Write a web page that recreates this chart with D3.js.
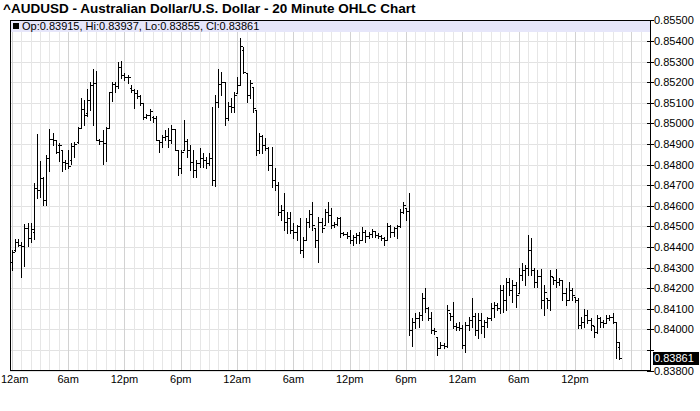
<!DOCTYPE html>
<html><head><meta charset="utf-8">
<script src="https://cdn.jsdelivr.net/npm/d3@7"></script>
<style>html,body{margin:0;padding:0;background:#fff;}svg{display:block;}</style>
</head><body>
<script>
const title = "^AUDUSD - Australian Dollar/U.S. Dollar - 20 Minute OHLC Chart";
const timeLabels = ["12am","6am","12pm","6pm","12am","6am","12pm","6pm","12am","6am","12pm"];
const timeLabelHours = [0,6,12,18,24,30,36,42,48,54,60];
const priceTicks = [0.838,0.839,0.840,0.841,0.842,0.843,0.844,0.845,0.846,0.847,0.848,0.849,0.850,0.851,0.852,0.853,0.854,0.855];
const barMinutes = 20;

const opens = [
0.84327,0.84385,0.84424,0.84409,0.84404,0.84492,0.84443,0.84473,0.84686,0.84677,
0.84735,0.84628,0.84832,0.84925,0.84920,0.84895,0.84871,0.84813,0.84808,0.84822,
0.84890,0.84910,0.84978,0.85070,0.85051,0.85114,0.85187,0.85197,0.84920,0.84915,
0.84905,0.84978,0.85153,0.85192,0.85182,0.85274,0.85236,0.85226,0.85172,0.85163,
0.85148,0.85133,0.85099,0.85031,0.85041,0.85031,0.85027,0.84920,0.84910,0.84934,
0.84939,0.84920,0.84973,0.84871,0.84784,0.84871,0.84915,0.84871,0.84813,0.84774,
0.84808,0.84832,0.84822,0.84808,0.84832,0.84725,0.85104,0.85192,0.85202,0.85027,
0.85085,0.85080,0.85148,0.85187,0.85357,0.85245,0.85138,0.85177,0.85065,0.84871,
0.84939,0.84895,0.84881,0.84798,0.84725,0.84701,0.84570,0.84579,0.84521,0.84541,
0.84482,0.84473,0.84502,0.84385,0.84434,0.84521,0.84560,0.84492,0.84434,0.84521,
0.84507,0.84570,0.84555,0.84507,0.84511,0.84541,0.84468,0.84463,0.84453,0.84434,
0.84448,0.84458,0.84434,0.84473,0.84453,0.84463,0.84477,0.84458,0.84453,0.84443,
0.84434,0.84502,0.84473,0.84492,0.84502,0.84570,0.84589,0.84575,0.83996,0.84035,
0.84055,0.84069,0.84152,0.84103,0.84055,0.83996,0.83962,0.83909,0.83923,0.83918,
0.84079,0.84064,0.84016,0.84011,0.84006,0.83923,0.84021,0.84045,0.84064,0.83996,
0.84045,0.84016,0.84035,0.84055,0.84103,0.84118,0.84103,0.84191,0.84142,0.84230,
0.84191,0.84215,0.84176,0.84264,0.84288,0.84298,0.84385,0.84288,0.84230,0.84259,
0.84142,0.84152,0.84142,0.84254,0.84239,0.84230,0.84239,0.84176,0.84142,0.84191,
0.84157,0.84142,0.84021,0.84035,0.84069,0.84045,0.84016,0.83987,0.84055,0.84035,
0.84030,0.84055,0.84059,0.84035,0.83915];

const highs = [
0.84385,0.84439,0.84439,0.84424,0.84511,0.84516,0.84516,0.84711,0.84949,0.84818,
0.84740,0.84847,0.84973,0.84954,0.84920,0.84905,0.84871,0.84822,0.84871,0.84905,
0.84910,0.84983,0.85124,0.85114,0.85168,0.85202,0.85265,0.85255,0.84925,0.84968,
0.84983,0.85153,0.85202,0.85202,0.85299,0.85304,0.85245,0.85236,0.85187,0.85168,
0.85163,0.85138,0.85099,0.85046,0.85070,0.85036,0.85036,0.84920,0.84944,0.84968,
0.84978,0.84993,0.84973,0.84871,0.84871,0.85017,0.84925,0.84895,0.84871,0.84822,
0.84881,0.84856,0.84837,0.84856,0.85080,0.85138,0.85265,0.85250,0.85202,0.85104,
0.85124,0.85153,0.85226,0.85415,0.85372,0.85245,0.85211,0.85177,0.85065,0.84954,
0.84944,0.84929,0.84886,0.84886,0.84784,0.84716,0.84604,0.84662,0.84570,0.84570,
0.84516,0.84507,0.84541,0.84448,0.84541,0.84579,0.84618,0.84492,0.84545,0.84541,
0.84584,0.84618,0.84589,0.84521,0.84545,0.84545,0.84473,0.84473,0.84482,0.84458,
0.84468,0.84473,0.84497,0.84482,0.84473,0.84487,0.84477,0.84468,0.84458,0.84448,
0.84516,0.84507,0.84497,0.84507,0.84584,0.84618,0.84589,0.84662,0.84055,0.84079,
0.84084,0.84176,0.84200,0.84108,0.84084,0.84006,0.83962,0.83938,0.83933,0.84118,
0.84079,0.84132,0.84030,0.84035,0.84021,0.84035,0.84059,0.84152,0.84079,0.84079,
0.84079,0.84045,0.84059,0.84127,0.84132,0.84127,0.84215,0.84215,0.84249,0.84249,
0.84239,0.84230,0.84298,0.84322,0.84312,0.84458,0.84443,0.84298,0.84288,0.84293,
0.84215,0.84152,0.84288,0.84254,0.84293,0.84249,0.84239,0.84200,0.84230,0.84200,
0.84157,0.84152,0.84059,0.84098,0.84093,0.84055,0.84016,0.84069,0.84059,0.84045,
0.84069,0.84069,0.84079,0.84035,0.83937];

const lows = [
0.84288,0.84380,0.84404,0.84254,0.84307,0.84404,0.84424,0.84439,0.84638,0.84643,
0.84604,0.84604,0.84769,0.84895,0.84856,0.84818,0.84769,0.84779,0.84784,0.84803,
0.84837,0.84905,0.84978,0.84993,0.85036,0.85065,0.84993,0.84920,0.84900,0.84803,
0.84818,0.84978,0.85109,0.85153,0.85172,0.85221,0.85211,0.85197,0.85153,0.85075,
0.85124,0.85090,0.85022,0.85027,0.85017,0.85007,0.84920,0.84861,0.84886,0.84920,
0.84886,0.84905,0.84871,0.84750,0.84759,0.84871,0.84837,0.84774,0.84740,0.84740,
0.84788,0.84788,0.84784,0.84798,0.84701,0.84696,0.85080,0.85138,0.84993,0.85017,
0.85056,0.85056,0.85148,0.85187,0.85245,0.85104,0.85124,0.85056,0.84847,0.84856,
0.84856,0.84871,0.84774,0.84691,0.84677,0.84555,0.84531,0.84482,0.84468,0.84468,
0.84443,0.84434,0.84370,0.84351,0.84434,0.84497,0.84482,0.84400,0.84327,0.84473,
0.84507,0.84521,0.84492,0.84497,0.84507,0.84448,0.84458,0.84443,0.84419,0.84409,
0.84419,0.84419,0.84434,0.84424,0.84443,0.84448,0.84448,0.84443,0.84434,0.84409,
0.84434,0.84448,0.84453,0.84443,0.84497,0.84565,0.84531,0.83972,0.83918,0.84006,
0.84011,0.84045,0.84084,0.84045,0.83982,0.83977,0.83875,0.83909,0.83909,0.83914,
0.84045,0.84006,0.83996,0.83996,0.83909,0.83889,0.83996,0.84011,0.83972,0.83957,
0.83982,0.83962,0.84011,0.84045,0.84059,0.84093,0.84079,0.84084,0.84093,0.84166,
0.84132,0.84108,0.84176,0.84239,0.84215,0.84264,0.84264,0.84205,0.84205,0.84103,
0.84069,0.84103,0.84093,0.84220,0.84205,0.84215,0.84142,0.84118,0.84142,0.84142,
0.84132,0.84006,0.84006,0.84011,0.84030,0.83996,0.83962,0.83982,0.84011,0.84011,
0.84030,0.84045,0.84030,0.83860,0.83855];

const closes = [
0.84375,0.84424,0.84409,0.84404,0.84492,0.84443,0.84487,0.84686,0.84677,0.84735,
0.84628,0.84832,0.84925,0.84920,0.84861,0.84895,0.84813,0.84808,0.84793,0.84890,
0.84900,0.84978,0.85070,0.85041,0.85114,0.85187,0.85197,0.84920,0.84915,0.84905,
0.84978,0.85153,0.85192,0.85182,0.85274,0.85236,0.85226,0.85226,0.85163,0.85148,
0.85133,0.85099,0.85031,0.85041,0.85061,0.85027,0.84920,0.84910,0.84934,0.84939,
0.84920,0.84973,0.84871,0.84784,0.84861,0.84915,0.84871,0.84813,0.84774,0.84808,
0.84832,0.84822,0.84808,0.84832,0.84725,0.85104,0.85192,0.85202,0.85027,0.85085,
0.85080,0.85138,0.85187,0.85376,0.85250,0.85138,0.85197,0.85075,0.84871,0.84939,
0.84895,0.84881,0.84798,0.84725,0.84701,0.84570,0.84579,0.84521,0.84541,0.84482,
0.84473,0.84502,0.84385,0.84434,0.84521,0.84560,0.84507,0.84434,0.84521,0.84492,
0.84570,0.84555,0.84507,0.84511,0.84541,0.84468,0.84463,0.84453,0.84434,0.84448,
0.84458,0.84434,0.84473,0.84453,0.84463,0.84477,0.84458,0.84453,0.84443,0.84434,
0.84502,0.84473,0.84492,0.84502,0.84570,0.84604,0.84575,0.83996,0.84035,0.84055,
0.84069,0.84152,0.84103,0.84055,0.83996,0.83991,0.83909,0.83923,0.83918,0.84093,
0.84064,0.84016,0.84011,0.84006,0.83923,0.84021,0.84045,0.84064,0.83996,0.84045,
0.84016,0.84035,0.84055,0.84103,0.84118,0.84103,0.84191,0.84142,0.84230,0.84191,
0.84215,0.84166,0.84264,0.84288,0.84298,0.84385,0.84288,0.84230,0.84259,0.84142,
0.84181,0.84142,0.84259,0.84239,0.84230,0.84239,0.84176,0.84142,0.84191,0.84166,
0.84142,0.84021,0.84035,0.84069,0.84045,0.84021,0.83987,0.84055,0.84035,0.84030,
0.84055,0.84059,0.84035,0.83938,0.83861];

const W = 700, H = 411;
const L = 10, R = 651, T = 20, B = 370.5;
const svg = d3.select("body").append("svg").attr("width", W).attr("height", H)
  .style("font-family", "'Liberation Sans', Arial, sans-serif");
svg.append("rect").attr("width", W).attr("height", H).attr("fill", "#fff");

const x = d3.scaleLinear().domain([-0.2, 68.1]).range([L, R]);
const y = d3.scaleLinear().domain([0.838, 0.855]).range([B, T + 0.3]);
const px = v => Math.round(v) + 0.5;

const grid = svg.append("g").attr("shape-rendering", "crispEdges");
grid.selectAll("line.h").data(priceTicks).join("line")
  .attr("x1", L).attr("x2", R).attr("y1", d => px(y(d))).attr("y2", d => px(y(d)))
  .attr("stroke", "#e2e2e2");
const hours = d3.range(0, 69);
grid.selectAll("line.v").data(hours).join("line")
  .attr("x1", d => px(x(d))).attr("x2", d => px(x(d)))
  .attr("y1", T).attr("y2", B)
  .attr("stroke", d => d % 6 === 0 ? "#d2d2d2" : "#e6e6e6");

// header band
svg.append("rect").attr("x", L).attr("y", T).attr("width", R - L).attr("height", 12)
  .attr("fill", "#e6e6fa");
const last = opens.length - 1;
svg.append("rect").attr("x", 13).attr("y", 23).attr("width", 6).attr("height", 6).attr("fill", "#000");
svg.append("text").attr("x", 22).attr("y", 30).attr("font-size", 11).attr("fill", "#000")
  .text(`Op:${opens[last].toFixed(5)}, Hi:${highs[last].toFixed(5)}, Lo:${lows[last].toFixed(5)}, Cl:${closes[last].toFixed(5)}`);

// bars
const bars = svg.append("g").attr("shape-rendering", "crispEdges");
bars.selectAll("path").data(opens.map((o, i) => i)).join("path")
  .attr("d", i => {
    const cx = px(x(i * barMinutes / 60));
    const yh = Math.round(y(highs[i])), yl = Math.round(y(lows[i]));
    const yo = px(y(opens[i])), yc = px(y(closes[i]));
    return `M${cx},${yh}V${Math.max(yl, yh + 1) + 0.5}M${cx - 2},${yo}H${cx}M${cx},${yc}H${cx + 2}`;
  })
  .attr("fill", "none").attr("stroke", "#000").attr("stroke-width", 1);

// frame
const frame = svg.append("g").attr("shape-rendering", "crispEdges");
frame.append("rect").attr("x", L + 0.5).attr("y", T + 0.5).attr("width", R - L - 1).attr("height", B - T - 0.5)
  .attr("fill", "none").attr("stroke", "#000");

// right axis
const lastY = y(closes[last]);
const ax = svg.append("g");
ax.selectAll("line").data(priceTicks).join("line").attr("shape-rendering", "crispEdges")
  .attr("x1", R - 4).attr("x2", R + 3).attr("y1", d => px(y(d))).attr("y2", d => px(y(d)))
  .attr("stroke", "#000");
ax.selectAll("text").data(priceTicks.filter(d => Math.abs(y(d) - lastY) > 10)).join("text")
  .attr("x", R + 3).attr("y", d => y(d) + 4).attr("font-size", 11).attr("fill", "#000")
  .text(d => d.toFixed(5));
svg.append("rect").attr("x", R + 2).attr("y", Math.round(lastY) - 6).attr("width", 46).attr("height", 13).attr("fill", "#000");
svg.append("text").attr("x", R + 3).attr("y", lastY + 4).attr("font-size", 11).attr("fill", "#fff")
  .text(closes[last].toFixed(5));

// bottom labels
const bl = svg.append("g").selectAll("text").data(timeLabelHours).join("text")
  .attr("x", d => x(d)).attr("y", 383).attr("text-anchor", "middle").attr("font-size", 11).attr("fill", "#000")
  .text((d, i) => timeLabels[i]);
bl.each(function(d) {
  const w = this.getComputedTextLength();
  if (x(d) - w / 2 < 1) d3.select(this).attr("text-anchor", "start").attr("x", 1);
});

// title
svg.append("text").attr("x", 3).attr("y", 13).attr("font-size", 13.5).attr("font-weight", "bold").attr("fill", "#000")
  .text(title);
</script>
</body></html>
